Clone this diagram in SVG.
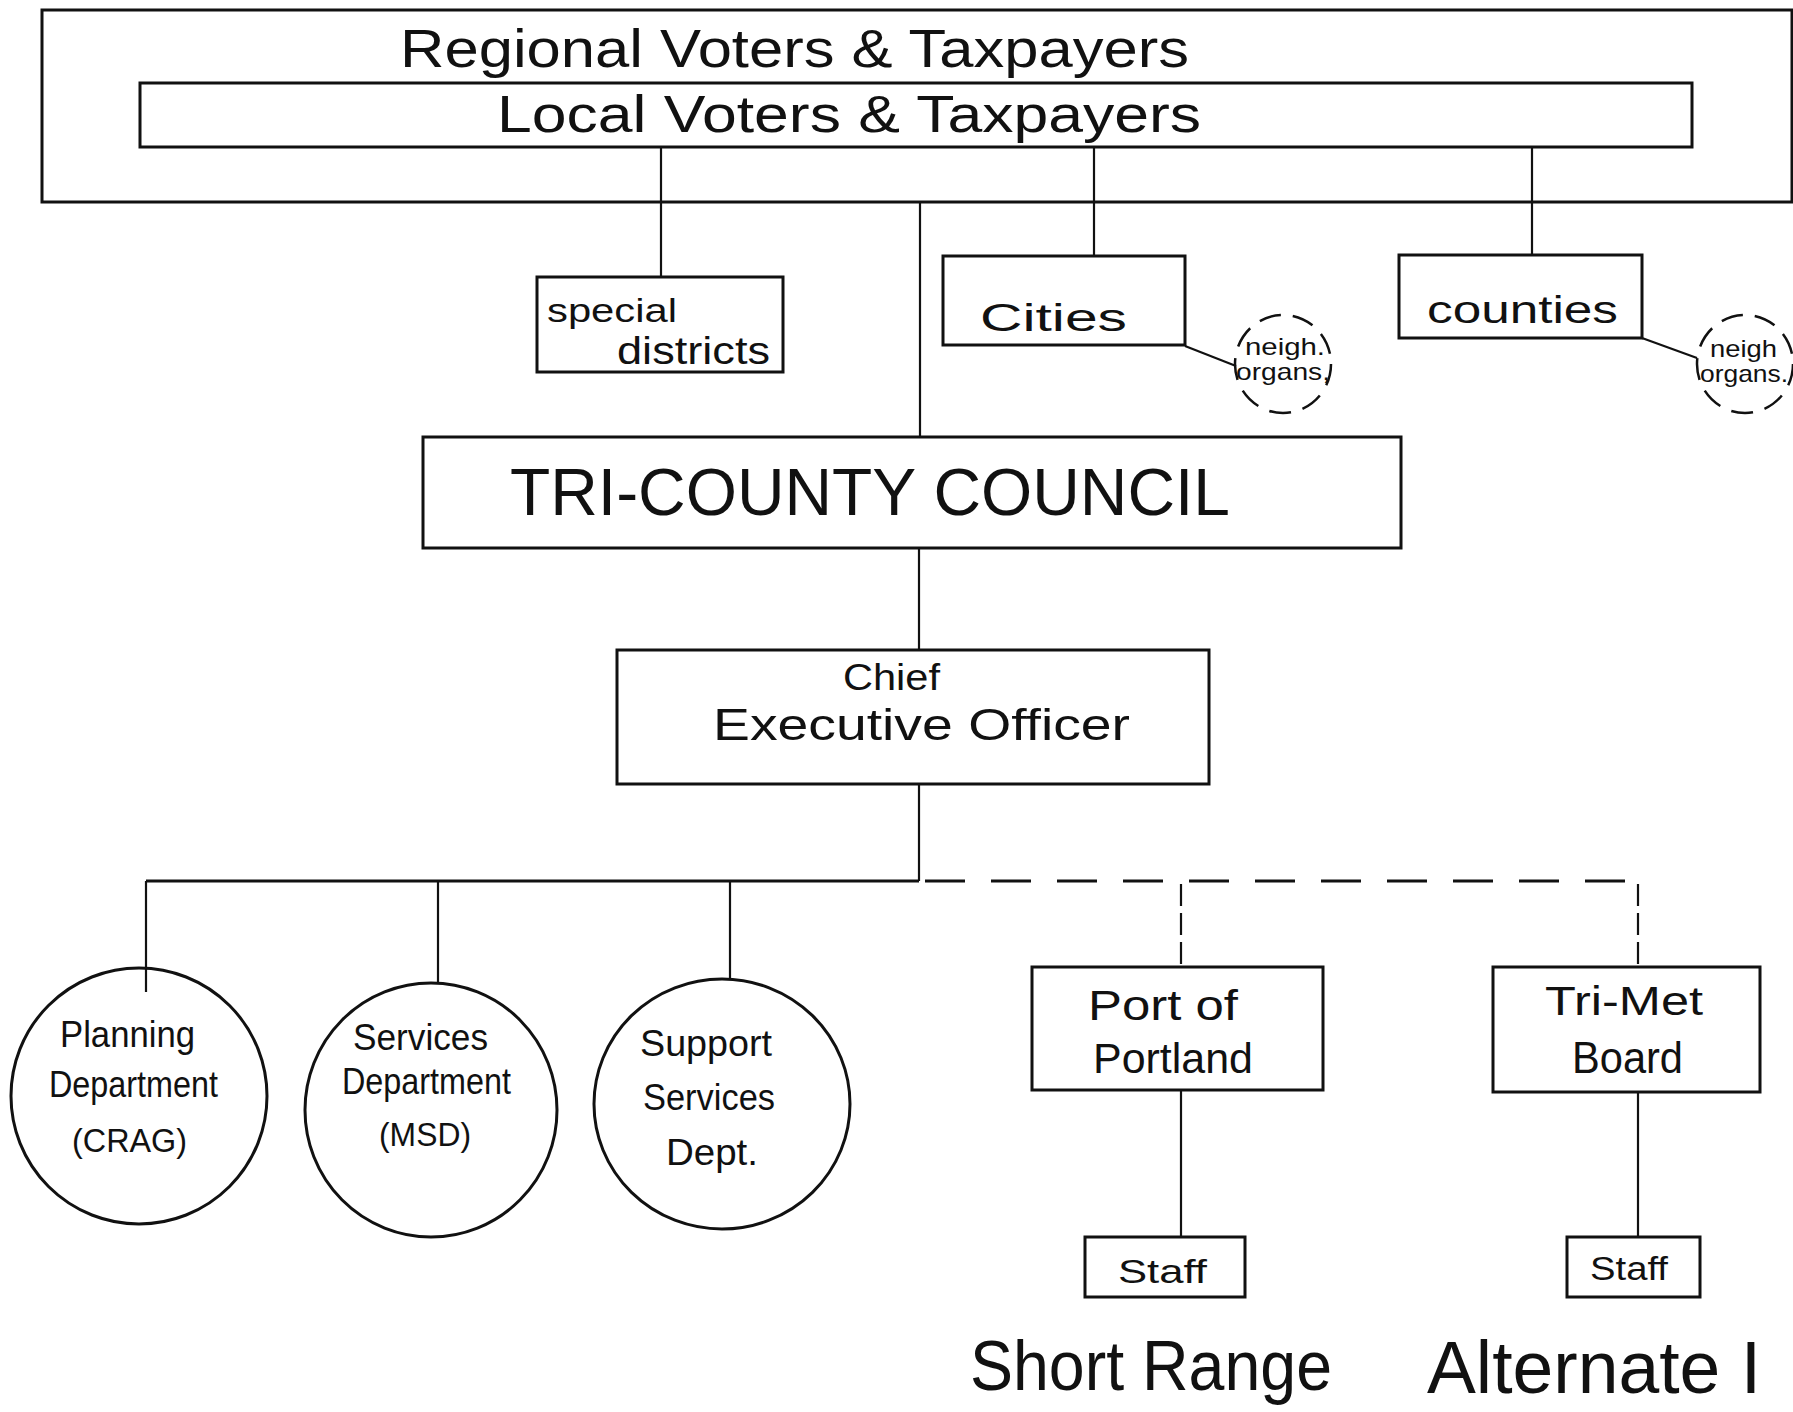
<svg xmlns="http://www.w3.org/2000/svg" width="1793" height="1412" viewBox="0 0 1793 1412">
  <style>
    .box { fill: none; stroke: #111; stroke-width: 3; }
    .ring { fill: none; stroke: #111; stroke-width: 3; }
    .dring { fill: none; stroke: #111; stroke-width: 2.5; stroke-dasharray: 22 12; }
    .line { fill: none; stroke: #111; stroke-width: 2.2; }
    .dash { fill: none; stroke: #111; stroke-width: 3; stroke-dasharray: 40 26; }
    .vdash { fill: none; stroke: #111; stroke-width: 2.2; stroke-dasharray: 22 7; }
    text { font-family: "Liberation Sans", "DejaVu Sans", sans-serif; fill: #111; }
  </style>
  <rect x="0" y="0" width="1793" height="1412" fill="#ffffff"/>

  <!-- connectors -->
  <g id="connectors">
    <line class="line" x1="661" y1="147" x2="661" y2="277"/>
    <line class="line" x1="1094" y1="147" x2="1094" y2="256"/>
    <line class="line" x1="1532" y1="147" x2="1532" y2="255"/>
    <line class="line" x1="920" y1="202" x2="920" y2="437"/>
    <line class="line" x1="1185" y1="346" x2="1236" y2="366"/>
    <line class="line" x1="1642" y1="338" x2="1697" y2="358"/>
    <line class="line" x1="919" y1="548" x2="919" y2="650"/>
    <line class="line" x1="919" y1="784" x2="919" y2="881"/>
    <!-- solid bus to the departments -->
    <line class="box" x1="146" y1="881" x2="919" y2="881"/>
    <line class="line" x1="146" y1="881" x2="146" y2="992"/>
    <line class="line" x1="438" y1="881" x2="438" y2="982"/>
    <line class="line" x1="730" y1="881" x2="730" y2="978"/>
    <!-- dashed bus to the special authorities -->
    <line class="dash" x1="925" y1="881" x2="1650" y2="881"/>
    <line class="vdash" x1="1181" y1="884" x2="1181" y2="967"/>
    <line class="vdash" x1="1638" y1="884" x2="1638" y2="967"/>
    <line class="line" x1="1181" y1="1090" x2="1181" y2="1237"/>
    <line class="line" x1="1638" y1="1092" x2="1638" y2="1237"/>
  </g>

  <g id="voters">
    <rect class="box" x="42" y="10" width="1750" height="192"/>
    <text x="400" y="67" font-size="54" textLength="789" lengthAdjust="spacingAndGlyphs">Regional Voters &amp; Taxpayers</text>
  </g>
  <g id="local-voters">
    <rect class="box" x="140" y="83" width="1552" height="64" fill="#fff"/>
    <text x="497" y="132" font-size="52" textLength="704" lengthAdjust="spacingAndGlyphs">Local Voters &amp; Taxpayers</text>
  </g>

  <g id="special-districts">
    <rect class="box" x="537" y="277" width="246" height="95"/>
    <text x="547" y="322" font-size="34" textLength="130" lengthAdjust="spacingAndGlyphs">special</text>
    <text x="617" y="364" font-size="38" textLength="153" lengthAdjust="spacingAndGlyphs">districts</text>
  </g>

  <g id="cities">
    <rect class="box" x="943" y="256" width="242" height="89"/>
    <text x="980" y="331" font-size="38" textLength="147" lengthAdjust="spacingAndGlyphs">Cities</text>
  </g>
  <g id="cities-neigh">
    <ellipse class="dring" cx="1283" cy="364" rx="48" ry="49"/>
    <text x="1245" y="355" font-size="24" textLength="80" lengthAdjust="spacingAndGlyphs">neigh.</text>
    <text x="1236" y="380" font-size="24" textLength="94" lengthAdjust="spacingAndGlyphs">organs,</text>
  </g>

  <g id="counties">
    <rect class="box" x="1399" y="255" width="243" height="83"/>
    <text x="1427" y="323" font-size="38" textLength="191" lengthAdjust="spacingAndGlyphs">counties</text>
  </g>
  <g id="counties-neigh">
    <ellipse class="dring" cx="1745" cy="364" rx="48" ry="49"/>
    <text x="1710" y="357" font-size="24" textLength="67" lengthAdjust="spacingAndGlyphs">neigh</text>
    <text x="1700" y="382" font-size="24" textLength="88" lengthAdjust="spacingAndGlyphs">organs.</text>
  </g>

  <g id="council">
    <rect class="box" x="423" y="437" width="978" height="111"/>
    <text x="510" y="515" font-size="66" textLength="720" lengthAdjust="spacingAndGlyphs">TRI-COUNTY COUNCIL</text>
  </g>

  <g id="ceo">
    <rect class="box" x="617" y="650" width="592" height="134"/>
    <text x="843" y="690" font-size="36" textLength="97" lengthAdjust="spacingAndGlyphs">Chief</text>
    <text x="713" y="740" font-size="44" textLength="417" lengthAdjust="spacingAndGlyphs">Executive Officer</text>
  </g>

  <g id="planning">
    <ellipse class="ring" cx="139" cy="1096" rx="128" ry="128"/>
    <text x="60" y="1047" font-size="36" textLength="135" lengthAdjust="spacingAndGlyphs">Planning</text>
    <text x="49" y="1097" font-size="36" textLength="169" lengthAdjust="spacingAndGlyphs">Department</text>
    <text x="72" y="1152" font-size="34" textLength="115" lengthAdjust="spacingAndGlyphs">(CRAG)</text>
  </g>

  <g id="services">
    <ellipse class="ring" cx="431" cy="1110" rx="126" ry="127"/>
    <text x="353" y="1050" font-size="36" textLength="135" lengthAdjust="spacingAndGlyphs">Services</text>
    <text x="342" y="1094" font-size="36" textLength="169" lengthAdjust="spacingAndGlyphs">Department</text>
    <text x="379" y="1146" font-size="34" textLength="92" lengthAdjust="spacingAndGlyphs">(MSD)</text>
  </g>

  <g id="support">
    <ellipse class="ring" cx="722" cy="1104" rx="128" ry="125"/>
    <text x="640" y="1056" font-size="36" textLength="132" lengthAdjust="spacingAndGlyphs">Support</text>
    <text x="643" y="1110" font-size="36" textLength="132" lengthAdjust="spacingAndGlyphs">Services</text>
    <text x="666" y="1165" font-size="36" textLength="92" lengthAdjust="spacingAndGlyphs">Dept.</text>
  </g>

  <g id="port">
    <rect class="box" x="1032" y="967" width="291" height="123"/>
    <text x="1088" y="1020" font-size="42" textLength="150" lengthAdjust="spacingAndGlyphs">Port of</text>
    <text x="1093" y="1073" font-size="42" textLength="160" lengthAdjust="spacingAndGlyphs">Portland</text>
  </g>
  <g id="port-staff">
    <rect class="box" x="1085" y="1237" width="160" height="60"/>
    <text x="1118" y="1283" font-size="34" textLength="89" lengthAdjust="spacingAndGlyphs">Staff</text>
  </g>

  <g id="trimet">
    <rect class="box" x="1493" y="967" width="267" height="125"/>
    <text x="1545" y="1015" font-size="40" textLength="158" lengthAdjust="spacingAndGlyphs">Tri-Met</text>
    <text x="1572" y="1073" font-size="44" textLength="111" lengthAdjust="spacingAndGlyphs">Board</text>
  </g>
  <g id="trimet-staff">
    <rect class="box" x="1567" y="1237" width="133" height="60"/>
    <text x="1590" y="1280" font-size="34" textLength="78" lengthAdjust="spacingAndGlyphs">Staff</text>
  </g>

  <g id="caption">
    <text x="970" y="1390" font-size="70" textLength="362" lengthAdjust="spacingAndGlyphs">Short Range</text>
    <text x="1427" y="1393" font-size="74" textLength="334" lengthAdjust="spacingAndGlyphs">Alternate I</text>
  </g>
</svg>
